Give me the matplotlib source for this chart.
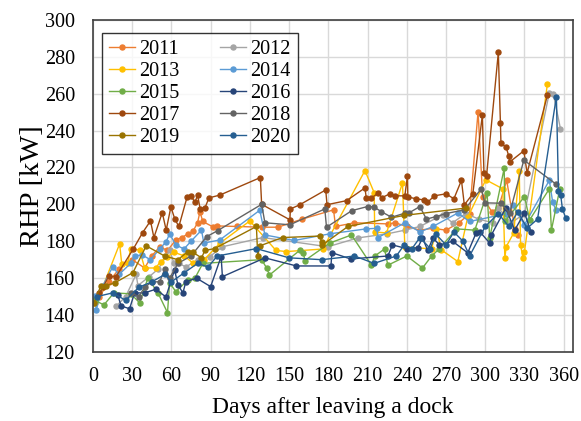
import numpy as np
import matplotlib
matplotlib.use('Agg')
from matplotlib import pyplot as plt

plt.rcParams['font.family'] = ['Liberation Serif', 'DejaVu Serif']

# (day, RHP kW)
d2011 = [(5,150),(12,158),(20,165),(30,170),(39.5,165.5),(45,172),(51,177),(57,175),(63.4,180.7),(68,182),
         (72.6,184),(76.4,185.3),(80,190),(81.8,196),(84,190.7),(91.7,187.8),(94.5,188.3),(110,188),(129,187.6),
         (141.4,187.6),(160,192),(184,197),(185.5,188),(200,190),(225.5,189.4),(231,190),(240,188),(250,186),
         (260,187),(270,186),(280,190),(288,195),(294.5,250.3),(298,204),(305,196),(310,198),(316.4,213),
         (322.6,186.7),(325,183.5)]
d2012 = [(18,145),(25,150),(33,162),(34.4,156),(43,160.8),(50,165),(58.6,175),(62,168),(66,168),(71,166),
         (80,170),(89.4,171.7),(99,177),(130,182),(179.6,177),(202.5,181.8),(225,184),(238.5,186),(250,188),
         (267.5,194.3),(275,190),(285,195),(295,192),(305.7,190),(310,198),(320,190),(330,195),(349,260.5),
         (352,260),(357.5,241)]
d2013 = [(1.3,146.6),(7.6,155.4),(20.4,178.6),(22,167.7),(26.7,168.4),(28.8,175.8),(35.7,175.3),(39.5,165.5),
         (48,165.5),(51.7,169),(57,171.7),(62,174),(70,172),(76.7,168),(85,170),(97,178.9),(120,191),(140,175),
         (148,174.4),(175.8,175.8),(208,218.3),(215,206.4),(215.5,185),(224.5,184.5),(236.7,211.6),(238.5,177),
         (259,175.8),(262.6,186.7),(266.5,175.3),(279,169),(286.6,193),(300.4,213.3),(313.4,208.4),(315,171),
         (316,177),(321.8,184.5),(326,218.3),(327,178),(328.8,171),(330,174.4),(347.5,265)]
d2014 = [(1.8,150.4),(2.5,142.8),(7.6,156),(15,166),(20,162),(28.8,168),(31.8,172),(37.4,172.6),(44,170),
         (51,175.8),(56,179.8),(58.6,184),(63.4,178),(69.6,175.8),(75,180),(83,186),(84.8,179),(97,180.7),
         (127.6,196.8),(131.5,183.4),(154,180.4),(181,184),(209,186.7),(217,187),(218,182),(238.5,190),
         (250,185),(260,188),(279,195.3),(288,190.7),(317,195),(321,199.5),(330,188.9),(349,213),(351.6,201),
         (354,197)]
d2015 = [(1.3,148),(8.4,145.5),(16,152),(29,151.5),(35.7,146.6),(42,160),(49.7,152),(57,141.3),(58.6,157.4),
         (63.4,152.7),(72.6,159),(78,160),(84,168),(129,170),(132.8,165.5),(135,161.7),(158,175),(161,173.8),
         (162,169.5),(181,179),(197.7,183.4),(213,167),(215.5,172),(223,175.8),(225.5,167),(240,172),
         (252,165.5),(259,172),(265,176),(278,186.7),(292,186),(301.4,206),(303.4,181.8),(314.5,219.6),
         (315,190.7),(330,204.2),(334,191.6),(349,208.4),(350.6,186),(357,208.4)]
d2016 = [(19,151),(21.4,145),(28,143.4),(31.8,152),(39.5,152),(48,154),(55.8,149.8),(62.4,164.5),(65,156.4),
         (68.8,152),(71,158),(79.2,160),(90,155.4),(98,171.7),(99,160.8),(131.5,171),(155.6,166.6),(182,166.6),
         (182.7,173.8),(197,170.4),(225.5,172),(229,178),(240,176),(248.4,176.4),(252,181.8),(256,175),
         (260,181.8),(265,178),(275,180),(286.6,173.7),(293,184.5),(296,185),(303.4,179),(304.7,183.4),
         (315.7,198),(322.5,186),(330,195.4),(335,185)]
d2017 = [(5,152),(7.7,155),(12,161),(17.6,160.8),(31,176),(38,184.7),(44,191),(46.6,182),(53,195.5),(56,186),
         (59.6,198.6),(62.6,192),(65.7,188),(72,204),(75,204.6),(78,201),(80,205),(82,197.5),(85.6,198),
         (88.7,203.5),(97,205),(128,214.5),(129,200),(150.6,191.6),(151,197.5),(158,199.7),(178,207.8),
         (179,199.8),(194,202),(208,208.9),(209,203.5),(213,203.5),(218,206),(221,203.6),(227,205.7),
         (231,204.6),(238.5,204.6),(240.5,215.4),(240.8,204),(247,203),(253,202.4),(255.8,201),(261,204.6),
         (270,205.7),(276,203),(281.8,213),(284,199.7),(290.5,205.7),(297.8,248.5),(299,217),(301,215.4),
         (310,282.3),(311.6,244),(312,233),(316,231),(318,226),(318.8,223),(329.5,229),(332,217),(347.5,259)]
d2018 = [(29,152),(35,150),(39.5,155),(45,158),(51,158),(55,165),(58.6,160),(65,168),(75,172),(87,182.5),
         (95.5,185.8),(129,200),(131.5,190),(150.6,188.9),(177.3,197.5),(178.6,187.6),(198,196.6),(210,198.8),
         (214.8,198.6),(220.6,196),(228.3,193),(238.5,195.2),(242,195.5),(250,198.8),(255,192),(262.6,193.4),
         (270,195),(284,197),(297,208.4),(299.6,200.8),(312,200.6),(318.7,195.2),(329.5,224),(354,211)]
d2019 = [(0.8,146.5),(6,155.8),(10,156),(16.6,157.4),(30.6,163),(40.7,177.5),(54.8,172),(65,170),(72.6,174.4),
         (76.4,174),(83,171),(85.6,175),(93,176),(125,188),(126,172),(127.6,177.5),(145,182),(173.5,182.8),
         (174.8,179.8),(175.5,178),(195,188),(238,194),(285.6,198)]
d2020 = [(3,150),(15,152),(25,148),(35,155),(45,158),(55,162),(60,158),(70,163),(80,168),(88,166),(95,172),
         (125,176),(150,171),(175,170),(200,172),(215,168),(232,172),(238,178),(244,176),(250,182),(258,176),
         (262,184),(270,178),(276,185),(283,180),(288,172),(300,188),(310,195),(318,188),(325,196),(332,187),
         (340,192),(354.4,258.4),(356,207),(357.7,205.1),(359,197.5),(361.5,192.7)]

years = ['2011', '2012', '2013', '2014', '2015', '2016', '2017', '2018', '2019', '2020']
series = [d2011, d2012, d2013, d2014, d2015, d2016, d2017, d2018, d2019, d2020]
colors = ['#ED7D31', '#A5A5A5', '#FFC000', '#5B9BD5', '#70AD47',
          '#264478', '#9E480E', '#636363', '#997300', '#255E91']

fig = plt.figure(figsize=(5.81, 4.21), dpi=100)
ax = fig.add_axes([0.160, 0.164, 0.826, 0.789])

handles = []
for yr, s, c in zip(years, series, colors):
    a = np.array(s)
    h, = ax.plot(a[:, 0], a[:, 1], '-o', color=c, lw=1.0, ms=3.6, label=yr)
    handles.append(h)

ax.set_xlim(0, 367)
ax.set_ylim(120, 300)
ax.set_xticks(np.arange(0, 361, 30))
ax.set_yticks(np.arange(120, 301, 20))
ax.grid(True, color='#D9D9D9', lw=1.0)
ax.set_axisbelow(True)
ax.tick_params(length=0, labelsize=14.5)
ax.tick_params(axis='x', pad=11)
ax.tick_params(axis='y', pad=13)
for sp in ax.spines.values():
    sp.set_color('#404040')
    sp.set_linewidth(1.2)

ax.set_xlabel('Days after leaving a dock', fontsize=17, labelpad=8)
ax.set_ylabel('RHP [kW]', fontsize=20.5, labelpad=0)

# legend filled row by row like the original
order = [0, 2, 4, 6, 8, 1, 3, 5, 7, 9]
leg = ax.legend([handles[i] for i in order], [years[i] for i in order],
                ncol=2, loc='upper left', bbox_to_anchor=(0.019, 0.961), borderaxespad=0,
                fontsize=14.5, frameon=True, fancybox=False, edgecolor='black',
                handlelength=1.3, borderpad=0.35, labelspacing=0.15, columnspacing=2.0,
                handletextpad=0.2)
leg.get_frame().set_linewidth(1.0)

plt.savefig('out.png', dpi=100)
